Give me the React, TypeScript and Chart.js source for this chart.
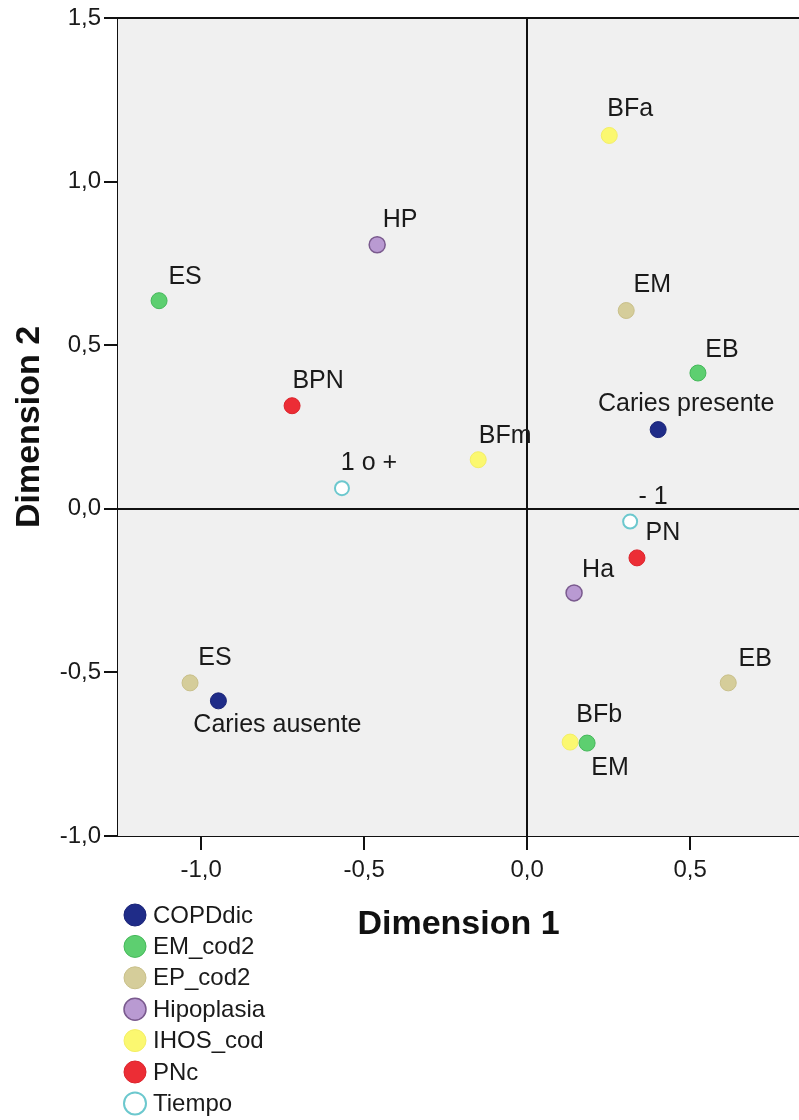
import React, { useEffect, useRef } from 'react';
import { Chart, registerables } from 'chart.js';

Chart.register(...registerables);

// Axis ticks
const X_TICKS = [-1.0, -0.5, 0.0, 0.5];
const Y_TICKS = [-1.0, -0.5, 0.0, 0.5, 1.0, 1.5];
const X_MIN = -1.255;
const X_MAX = 0.834;
const Y_MIN = -1.0;
const Y_MAX = 1.5;

// Category coordinates (Dimension 1, Dimension 2) per variable
const copdLabels = ['Caries presente', 'Caries ausente'];
const copdDim1 = [0.402, -0.947];
const copdDim2 = [0.242, -0.587];

const emLabels = ['ES', 'EB', 'EM'];
const emDim1 = [-1.129, 0.524, 0.184];
const emDim2 = [0.636, 0.415, -0.716];

const epLabels = ['EM', 'ES', 'EB'];
const epDim1 = [0.304, -1.034, 0.617];
const epDim2 = [0.606, -0.532, -0.532];

const hipoLabels = ['HP', 'Ha'];
const hipoDim1 = [-0.46, 0.144];
const hipoDim2 = [0.807, -0.257];

const ihosLabels = ['BFa', 'BFm', 'BFb'];
const ihosDim1 = [0.252, -0.15, 0.132];
const ihosDim2 = [1.141, 0.15, -0.713];

const pncLabels = ['BPN', 'PN'];
const pncDim1 = [-0.721, 0.337];
const pncDim2 = [0.315, -0.15];

const tiempoLabels = ['1 o +', '- 1'];
const tiempoDim1 = [-0.568, 0.316];
const tiempoDim2 = [0.063, -0.039];

// Where each point's text sits, relative to the point (px)
const copdLabelPos = [[28, -26], [59, 24]];
const emLabelPos = [[26, -24], [24, -23], [23, 25]];
const epLabelPos = [[26, -25], [25, -25], [27, -24]];
const hipoLabelPos = [[23, -25], [24, -23]];
const ihosLabelPos = [[21, -26], [27, -24], [29, -27]];
const pncLabelPos = [[26, -25], [26, -25]];
const tiempoLabelPos = [[27, -25], [23, -24]];

const FONT = '"Liberation Sans", Arial, sans-serif';

const toPoints = (xs: number[], ys: number[]) => xs.map((x, i) => ({ x, y: ys[i] }));
const fmt = (v: number) => v.toFixed(1).replace('.', ',');

function makeSet(
  label: string,
  xs: number[],
  ys: number[],
  names: string[],
  pos: number[][],
  fill: string,
  border: string,
  radius: number,
  borderWidth: number
) {
  return {
    label,
    data: toPoints(xs, ys),
    pointLabels: names,
    labelPos: pos,
    backgroundColor: fill,
    borderColor: border,
    pointRadius: radius,
    pointHoverRadius: radius,
    pointBorderWidth: borderWidth,
    showLine: false,
  };
}

const plotDecor = {
  id: 'plotDecor',
  beforeDatasetsDraw(chart: any) {
    const { ctx, chartArea, scales } = chart;
    const { left, right, top, bottom } = chartArea;
    ctx.save();
    ctx.fillStyle = '#f0f0f0';
    ctx.fillRect(left, top, right - left, bottom - top);
    ctx.strokeStyle = '#111';
    ctx.lineWidth = 2;
    // top frame
    ctx.beginPath();
    ctx.moveTo(left, top);
    ctx.lineTo(right, top);
    ctx.stroke();
    // reference lines at origin
    const x0 = Math.round(scales.x.getPixelForValue(0));
    const y0 = Math.round(scales.y.getPixelForValue(0));
    ctx.beginPath();
    ctx.moveTo(x0, top);
    ctx.lineTo(x0, bottom);
    ctx.moveTo(left, y0);
    ctx.lineTo(right, y0);
    ctx.stroke();
    ctx.restore();
  },
  afterDatasetsDraw(chart: any) {
    const { ctx } = chart;
    ctx.save();
    ctx.font = `25px ${FONT}`;
    ctx.fillStyle = '#1a1a1a';
    ctx.textAlign = 'center';
    ctx.textBaseline = 'middle';
    chart.data.datasets.forEach((ds: any, i: number) => {
      const meta = chart.getDatasetMeta(i);
      meta.data.forEach((pt: any, j: number) => {
        const [dx, dy] = ds.labelPos[j];
        ctx.fillText(ds.pointLabels[j], pt.x + dx, pt.y + dy);
      });
    });
    ctx.restore();
  },
  afterDraw(chart: any) {
    const { ctx } = chart;
    ctx.save();
    ctx.font = `24px ${FONT}`;
    ctx.textAlign = 'left';
    ctx.textBaseline = 'middle';
    chart.data.datasets.forEach((ds: any, i: number) => {
      const cy = 915 + i * 31.4;
      ctx.beginPath();
      ctx.arc(135, cy, 11, 0, Math.PI * 2);
      ctx.fillStyle = ds.backgroundColor;
      ctx.fill();
      ctx.lineWidth = ds.pointBorderWidth;
      ctx.strokeStyle = ds.borderColor;
      ctx.stroke();
      ctx.fillStyle = '#1a1a1a';
      ctx.fillText(ds.label, 153, cy + 1);
    });
    ctx.restore();
  },
};

export default function App() {
  const ref = useRef<HTMLCanvasElement | null>(null);

  useEffect(() => {
    if (!ref.current) return;
    const datasets = [
      makeSet('COPDdic', copdDim1, copdDim2, copdLabels, copdLabelPos, '#1f2c88', '#1a2478', 8, 1),
      makeSet('EM_cod2', emDim1, emDim2, emLabels, emLabelPos, '#5dcf70', '#45b85a', 8, 1),
      makeSet('EP_cod2', epDim1, epDim2, epLabels, epLabelPos, '#d5cd9a', '#c9c08a', 8, 1),
      makeSet('Hipoplasia', hipoDim1, hipoDim2, hipoLabels, hipoLabelPos, '#b99ad2', '#7a5a8e', 8, 1.5),
      makeSet('IHOS_cod', ihosDim1, ihosDim2, ihosLabels, ihosLabelPos, '#fbf870', '#f3ee66', 8, 1),
      makeSet('PNc', pncDim1, pncDim2, pncLabels, pncLabelPos, '#ec2d35', '#dc232b', 8, 1),
      makeSet('Tiempo', tiempoDim1, tiempoDim2, tiempoLabels, tiempoLabelPos, '#ffffff', '#6cc8ce', 7, 2),
    ];

    const tickFont = { family: FONT, size: 24 };
    const titleFont = { family: FONT, size: 34, weight: 'bold' as const };

    const chart = new Chart(ref.current, {
      type: 'scatter',
      data: { datasets: datasets as any },
      options: {
        animation: false,
        responsive: false,
        devicePixelRatio: 1,
        layout: { autoPadding: false, padding: { top: 18, right: 0, left: 0, bottom: 0 } },
        plugins: {
          legend: { display: false },
          tooltip: { enabled: false },
        },
        scales: {
          x: {
            type: 'linear',
            min: X_MIN,
            max: X_MAX,
            afterBuildTicks: (scale: any) => {
              scale.ticks = X_TICKS.map((v) => ({ value: v }));
            },
            afterFit: (scale: any) => {
              scale.height = 284;
              scale.paddingLeft = 0;
              scale.paddingRight = 0;
            },
            grid: {
              display: true,
              drawOnChartArea: false,
              drawTicks: true,
              tickLength: 14,
              color: '#111',
              lineWidth: 2,
            },
            border: { display: true, color: '#111', width: 2 },
            ticks: {
              font: tickFont,
              color: '#1a1a1a',
              padding: 6,
              maxRotation: 0,
              callback: (v: any) => fmt(Number(v)),
            },
            title: {
              display: true,
              text: 'Dimension 1',
              font: titleFont,
              color: '#111',
              padding: { top: 0, bottom: 175 },
            },
          },
          y: {
            type: 'linear',
            min: Y_MIN,
            max: Y_MAX,
            afterBuildTicks: (scale: any) => {
              scale.ticks = Y_TICKS.map((v) => ({ value: v }));
            },
            afterFit: (scale: any) => {
              scale.width = 118;
              scale.paddingTop = 0;
              scale.paddingBottom = 0;
            },
            grid: {
              display: true,
              drawOnChartArea: false,
              drawTicks: true,
              tickLength: 14,
              color: '#111',
              lineWidth: 2,
            },
            border: { display: true, color: '#111', width: 2 },
            ticks: {
              font: tickFont,
              color: '#1a1a1a',
              padding: 3,
              callback: (v: any) => fmt(Number(v)),
            },
            title: {
              display: true,
              text: 'Dimension 2',
              font: titleFont,
              color: '#111',
              padding: { top: 9, bottom: 0 },
            },
          },
        },
      },
      plugins: [plotDecor],
    });

    return () => chart.destroy();
  }, []);

  return (
    <div style={{ position: 'absolute', left: 0, top: 0, width: 799, height: 1120, background: '#fff' }}>
      <canvas ref={ref} width={799} height={1120} style={{ width: 799, height: 1120, display: 'block' }} />
    </div>
  );
}
